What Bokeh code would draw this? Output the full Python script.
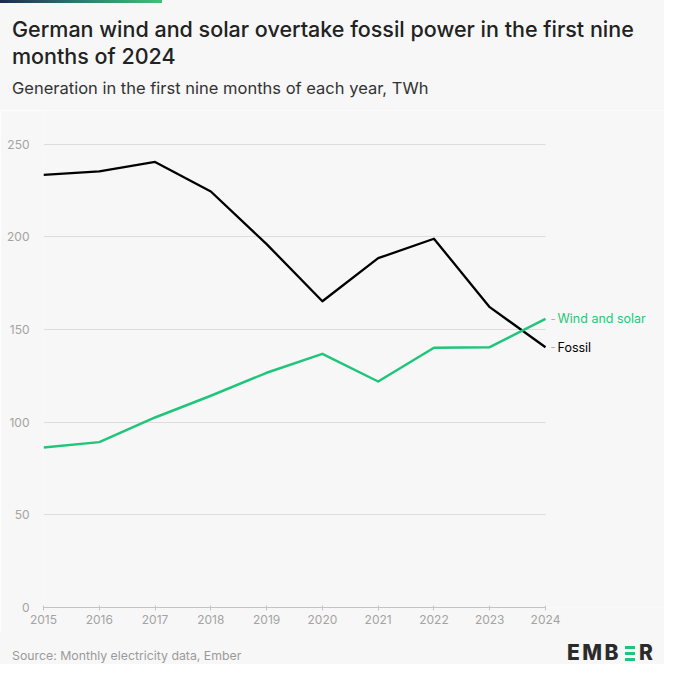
from bokeh.plotting import figure
from bokeh.layouts import column
from bokeh.models import Label, FixedTicker, ColumnDataSource, Range1d, Div
from bokeh.embed import file_html
from bokeh.resources import INLINE

# ---- data ----
years = [2015, 2016, 2017, 2018, 2019, 2020, 2021, 2022, 2023, 2024]
fossil = [233.3, 235.2, 240.3, 224.4, 196.0, 165.2, 188.4, 198.9, 162.0, 140.4]
wind_solar = [86.3, 89.2, 102.5, 114.2, 126.6, 136.8, 121.9, 140.1, 140.4, 155.7]
y_ticks = [0, 50, 100, 150, 200, 250]
x_ticks = years
series_names = ["Wind and solar", "Fossil"]

title_lines = ["German wind and solar overtake fossil power in the first nine",
               "months of 2024"]
subtitle = "Generation in the first nine months of each year, TWh"
source_text = "Source: Monthly electricity data, Ember"

# ---- style / layout ----
BG = "#f7f7f7"
GREEN = "#1fc67a"
BLACK = "#000000"
FONT = "Inter"
W = 664
HEAD_H = 110
FOOT_H = 32
MAIN_H = W - HEAD_H - FOOT_H          # 522
X0_PX, X1_PX = 43, 545                # canvas x of first / last year
Y250_PX, Y0_PX = 143.5, 607           # canvas y of 250 and 0

# ---- header (HTML) ----
head_html = f"""
<div style="position:relative;width:{W}px;height:{HEAD_H}px;background:{BG};
            font-family:Inter, sans-serif;overflow:hidden;">
  <div style="position:absolute;left:0;top:0;width:162px;height:3px;
              background:linear-gradient(90deg,#1c2a55,#2f7a6e 50%,#3ec276);"></div>
  <div style="position:absolute;left:12px;top:16px;font-size:21.5px;
              line-height:26.5px;color:#222222;font-weight:500;white-space:nowrap;">
    {title_lines[0]}<br>{title_lines[1]}</div>
  <div style="position:absolute;left:12px;top:78px;font-size:16.5px;
              line-height:20px;color:#333333;white-space:nowrap;">{subtitle}</div>
</div>
"""
head = Div(text=head_html, width=W, height=HEAD_H, margin=(0, 0, 0, 0))

# ---- main chart ----
px_per_year = (X1_PX - X0_PX) / (years[-1] - years[0])
x_end = years[-1] + (W - X1_PX) / px_per_year
px_per_unit = (Y0_PX - Y250_PX) / y_ticks[-1]
y_end = y_ticks[-1] + (Y250_PX - HEAD_H) / px_per_unit
bottom_border = HEAD_H + MAIN_H - Y0_PX

p = figure(width=W, height=MAIN_H, output_backend="svg",
           toolbar_location=None, title=None,
           x_range=Range1d(years[0], x_end), y_range=Range1d(0, y_end),
           min_border_left=X0_PX, min_border_right=0, min_border_top=0,
           min_border_bottom=bottom_border)
p.background_fill_color = BG
p.border_fill_color = BG
p.outline_line_color = None

p.xaxis.ticker = FixedTicker(ticks=x_ticks)
p.xaxis.bounds = (years[0], years[-1])
p.xaxis.axis_line_color = "#c4c4c4"
p.xaxis.major_tick_line_color = "#c4c4c4"
p.xaxis.major_tick_in = 2
p.xaxis.major_tick_out = 3
p.xaxis.minor_tick_line_color = None
p.xaxis.major_label_text_color = "#a3a3a3"
p.xaxis.major_label_text_font = FONT
p.xaxis.major_label_text_font_size = "12px"
p.xaxis.major_label_standoff = 4

p.yaxis.ticker = FixedTicker(ticks=y_ticks)
p.yaxis.axis_line_color = None
p.yaxis.major_tick_line_color = None
p.yaxis.minor_tick_line_color = None
p.yaxis.major_label_text_color = "#a3a3a3"
p.yaxis.major_label_text_font = FONT
p.yaxis.major_label_text_font_size = "12px"
p.yaxis.major_label_standoff = 8

p.xgrid.grid_line_color = None
p.ygrid.ticker = FixedTicker(ticks=y_ticks[1:])
p.ygrid.grid_line_color = "#dddddd"
p.ygrid.grid_line_width = 1
try:
    p.ygrid.cross_bounds = (years[0], years[-1])
except Exception:
    p.ygrid.grid_line_color = None
    p.segment(x0=[years[0]] * (len(y_ticks) - 1), x1=[years[-1]] * (len(y_ticks) - 1),
              y0=y_ticks[1:], y1=y_ticks[1:], line_color="#dddddd", line_width=1)

src = ColumnDataSource(dict(year=years, fossil=fossil, ws=wind_solar))
p.line("year", "fossil", source=src, line_color=BLACK, line_width=2.3,
       line_join="round")
p.line("year", "ws", source=src, line_color=GREEN, line_width=2.5,
       line_join="round")

for name, vals, col in [(series_names[0], wind_solar, GREEN),
                        (series_names[1], fossil, BLACK)]:
    p.add_layout(Label(x=years[-1], y=vals[-1], text="-", x_offset=5,
                       text_baseline="middle", text_color="#aaaaaa",
                       text_font=FONT, text_font_size="11px"))
    p.add_layout(Label(x=years[-1], y=vals[-1], text=name, x_offset=12,
                       text_baseline="middle", text_color=col,
                       text_font=FONT, text_font_size="12.5px"))

# ---- footer (HTML) ----
bars = "".join(
    f'<div style="position:absolute;left:625px;top:{t}px;width:10px;height:3px;'
    f'background:{GREEN};"></div>' for t in (14, 20, 26))
foot_html = f"""
<div style="position:relative;width:{W}px;height:{FOOT_H}px;background:{BG};
            font-family:Inter, sans-serif;overflow:hidden;">
  <div style="position:absolute;left:12px;top:16px;font-size:12.3px;line-height:15px;
              color:#9a9a9a;white-space:nowrap;">{source_text}</div>
  <div style="position:absolute;left:567px;top:8px;font-size:21px;line-height:25px;
              font-weight:800;color:#2b2b2b;letter-spacing:2.5px;">EMB</div>
  {bars}
  <div style="position:absolute;left:639px;top:8px;font-size:21px;line-height:25px;
              font-weight:800;color:#2b2b2b;">R</div>
</div>
"""
foot = Div(text=foot_html, width=W, height=FOOT_H, margin=(0, 0, 0, 0))

layout = column(head, p, foot, spacing=0)
open("out.html", "w").write(file_html(layout, INLINE))
